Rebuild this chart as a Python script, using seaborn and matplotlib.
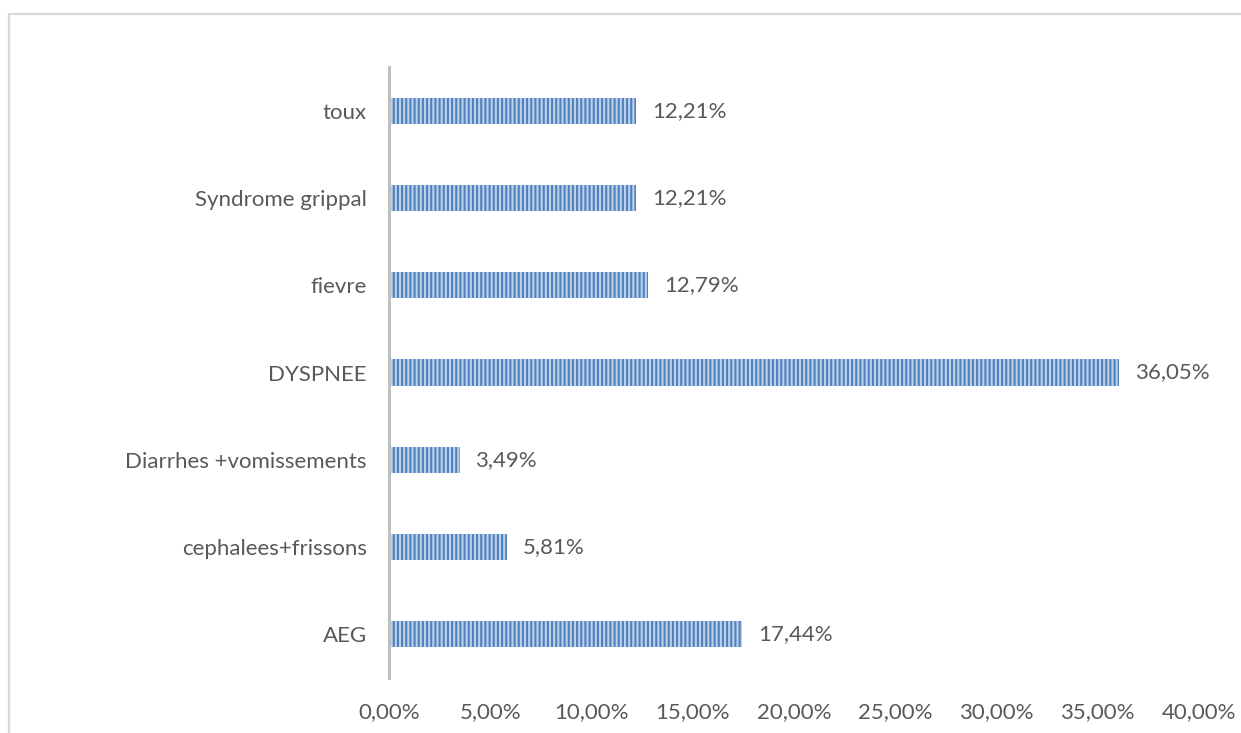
import numpy as np
import matplotlib
matplotlib.use("Agg")
from matplotlib import pyplot as plt
from matplotlib.ticker import FuncFormatter
import seaborn as sns
import pandas as pd

# symptom categories, top to bottom as in the chart
symptoms = ['toux', 'Syndrome grippal', 'fievre', 'DYSPNEE',
            'Diarrhes +vomissements', 'cephalees+frissons', 'AEG']
pct = [12.21, 12.21, 12.79, 36.05, 3.49, 5.81, 17.44]
xticks = [0, 5, 10, 15, 20, 25, 30, 35, 40]

df = pd.DataFrame({'symptome': symptoms, 'pct': pct})

sns.set_style("white")
plt.rcParams['font.family'] = ['Lato', 'DejaVu Sans']
plt.rcParams['hatch.linewidth'] = 1.5
plt.rcParams['hatch.color'] = '#4f81bd'
grey = '#595959'
fs = 16

fig = plt.figure(figsize=(12.41, 7.33), dpi=100)
ax = fig.add_axes([389 / 1241, 1 - 678 / 733, 810 / 1241, 611 / 733])

sns.barplot(data=df, y='symptome', x='pct', order=symptoms, orient='h',
            width=0.3, color='#bcd2ec', saturation=1, ax=ax)

for p in ax.patches:
    p.set_hatch('||||')
    p.set_edgecolor('#4f81bd')
    p.set_linewidth(0)

# value labels
for i, v in enumerate(pct):
    ax.text(v + 0.78, i, '{:.2f}%'.format(v).replace('.', ','),
            va='center', ha='left', fontsize=fs, color=grey)

ax.set_xlim(0, 40)
ax.set_xticks(xticks)
ax.xaxis.set_major_formatter(FuncFormatter(lambda x, _: '{:.2f}%'.format(x).replace('.', ',')))
ax.set_xlabel('')
ax.set_ylabel('')
ax.tick_params(axis='both', length=0, labelsize=fs, labelcolor=grey)
ax.tick_params(axis='y', pad=16)
ax.tick_params(axis='x', pad=17)

for s in ['top', 'right', 'bottom']:
    ax.spines[s].set_visible(False)
ax.spines['left'].set_color('#bfbfbf')
ax.spines['left'].set_linewidth(2.2)

# outer chart frame (top and left edges visible)
fig.add_artist(plt.Line2D([9 / 1241, 1.0], [1 - 14 / 733, 1 - 14 / 733],
                          transform=fig.transFigure, color='#d9d9d9', lw=1.6))
fig.add_artist(plt.Line2D([9 / 1241, 9 / 1241], [0, 1 - 14 / 733],
                          transform=fig.transFigure, color='#d9d9d9', lw=1.6))

fig.savefig('out.png', dpi=100)
